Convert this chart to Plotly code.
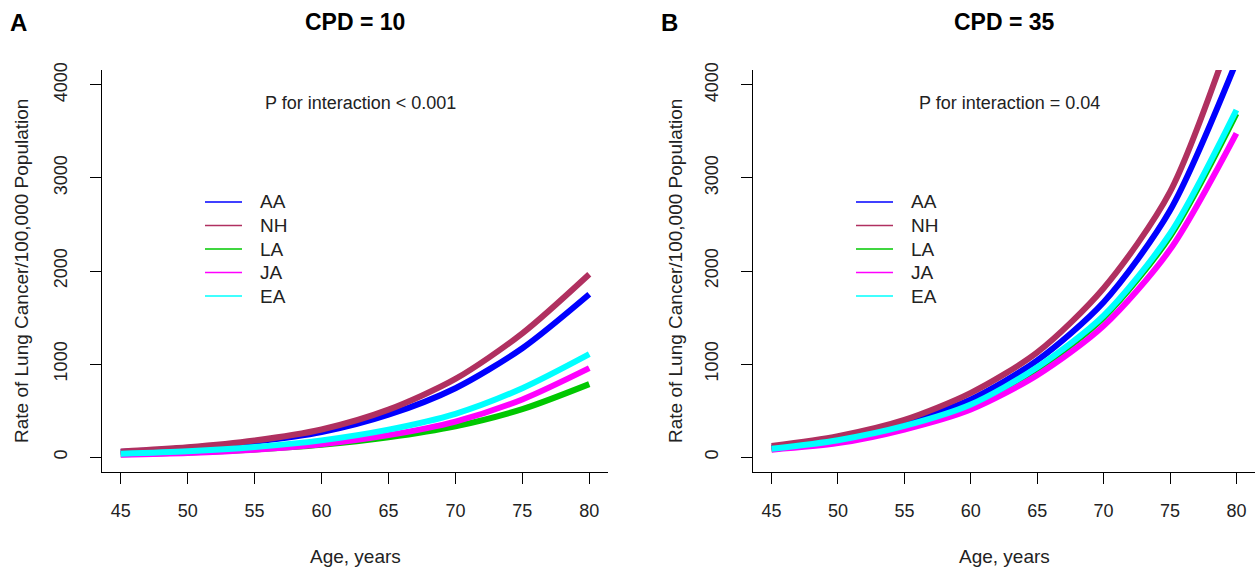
import plotly.graph_objects as go

# ---------------- data ----------------
ages = [45, 50, 55, 60, 65, 70, 75, 80]
groups = ["AA", "NH", "LA", "JA", "EA"]
group_colors = ["#0000FF", "#B03060", "#00C800", "#FF00FF", "#00FFFF"]

# Panel A: CPD = 10
cpd10_AA = [55, 98, 165, 268, 455, 740, 1170, 1750]
cpd10_NH = [60, 105, 178, 297, 510, 840, 1330, 1965]
cpd10_LA = [30, 50, 82, 132, 212, 330, 515, 784]
cpd10_JA = [25, 45, 80, 138, 236, 382, 620, 956]
cpd10_EA = [35, 62, 108, 180, 295, 465, 740, 1106]

# Panel B: CPD = 35
cpd35_AA = [100, 200, 368, 620, 1040, 1665, 2650, 4250]
cpd35_NH = [120, 225, 400, 690, 1125, 1815, 2850, 4700]
cpd35_LA = [85, 180, 325, 550, 940, 1500, 2370, 3690]
cpd35_JA = [80, 150, 297, 512, 880, 1410, 2230, 3480]
cpd35_EA = [90, 182, 335, 565, 965, 1520, 2400, 3730]

x_ticks = [45, 50, 55, 60, 65, 70, 75, 80]
y_ticks = [0, 1000, 2000, 3000, 4000]

panel_titles = ["CPD = 10", "CPD = 35"]
panel_letters = ["A", "B"]
p_texts = ["P for interaction < 0.001", "P for interaction = 0.04"]

# ---------------- layout geometry ----------------
W, H = 1255, 570
ML, MR, MT, MB = 102, 0, 70, 98
PW = W - ML - MR
PH = H - MT - MB
FONT = "Liberation Sans, Arial, Helvetica, sans-serif"


def px_x(p):
    return (p - ML) / PW


def px_y(p):
    return (H - MB - p) / PH


dom_left = [0.0, px_x(608)]
dom_right = [px_x(753), 1.0]

fig = go.Figure()

panels = [
    ("x", "y", [cpd10_AA, cpd10_NH, cpd10_LA, cpd10_JA, cpd10_EA]),
    ("x2", "y2", [cpd35_AA, cpd35_NH, cpd35_LA, cpd35_JA, cpd35_EA]),
]
for xa, ya, series in panels:
    for name, col, vals in zip(groups, group_colors, series):
        fig.add_trace(go.Scatter(
            x=ages, y=vals, mode="lines", name=name,
            line=dict(color=col, width=6, shape="spline", smoothing=0.8),
            xaxis=xa, yaxis=ya, showlegend=False, hoverinfo="skip"))

axis_common = dict(
    showgrid=False, zeroline=False, showline=True, linecolor="black", linewidth=1,
    ticks="outside", ticklen=11, tickcolor="black", tickwidth=1,
    tickfont=dict(family=FONT, size=18, color="#222"),
)

fig.update_layout(
    width=W, height=H,
    margin=dict(l=ML, r=MR, t=MT, b=MB),
    paper_bgcolor="white", plot_bgcolor="white",
    xaxis=dict(domain=dom_left, range=[43.6, 81.4], tickvals=x_ticks,
               anchor="y", ticklabelstandoff=11, **axis_common),
    yaxis=dict(domain=[0, 1], range=[-160, 4160], tickvals=y_ticks,
               anchor="x", tickangle=-90, ticklabelstandoff=16, **axis_common),
    xaxis2=dict(domain=dom_right, range=[43.6, 81.4], tickvals=x_ticks,
                anchor="y2", ticklabelstandoff=11, **axis_common),
    yaxis2=dict(domain=[0, 1], range=[-160, 4160], tickvals=y_ticks,
                anchor="x2", tickangle=-90, ticklabelstandoff=16, **axis_common),
    showlegend=False,
)

annotations = []
shapes = []
offsets = [0, 651]
centers = [355, 1004]
for i in range(2):
    off = offsets[i]
    cx = centers[i]
    annotations.append(dict(text="<b>%s</b>" % panel_letters[i], x=px_x(18 + off), y=px_y(22),
                            xref="paper", yref="paper", showarrow=False,
                            xanchor="center", yanchor="middle",
                            font=dict(family=FONT, size=24, color="black")))
    annotations.append(dict(text="<b>%s</b>" % panel_titles[i], x=px_x(cx), y=px_y(22),
                            xref="paper", yref="paper", showarrow=False,
                            xanchor="center", yanchor="middle",
                            font=dict(family=FONT, size=23, color="black")))
    annotations.append(dict(text=p_texts[i], x=px_x(cx + 5), y=px_y(103),
                            xref="paper", yref="paper", showarrow=False,
                            xanchor="center", yanchor="middle",
                            font=dict(family=FONT, size=18, color="#222")))
    annotations.append(dict(text="Age, years", x=px_x(cx), y=px_y(556),
                            xref="paper", yref="paper", showarrow=False,
                            xanchor="center", yanchor="middle",
                            font=dict(family=FONT, size=19, color="#222")))
    annotations.append(dict(text="Rate of Lung Cancer/100,000 Population",
                            x=px_x(21 + off + (3 if i else 0)), y=px_y(271),
                            xref="paper", yref="paper", showarrow=False, textangle=-90,
                            xanchor="center", yanchor="middle",
                            font=dict(family=FONT, size=19, color="#222")))
    for k, (name, col) in enumerate(zip(groups, group_colors)):
        yy = 202 + k * 23.5
        shapes.append(dict(type="line", xref="paper", yref="paper",
                           x0=px_x(205 + off), x1=px_x(242 + off),
                           y0=px_y(yy), y1=px_y(yy),
                           line=dict(color=col, width=1.5)))
        annotations.append(dict(text=name, x=px_x(258 + off), y=px_y(yy),
                                xref="paper", yref="paper", showarrow=False,
                                xanchor="left", yanchor="middle",
                                font=dict(family=FONT, size=19, color="#222")))

fig.update_layout(annotations=annotations, shapes=shapes)

fig.write_html("out.html", config={"displayModeBar": False},
               post_script="document.body.style.margin='0px';document.body.style.overflow='hidden';")
